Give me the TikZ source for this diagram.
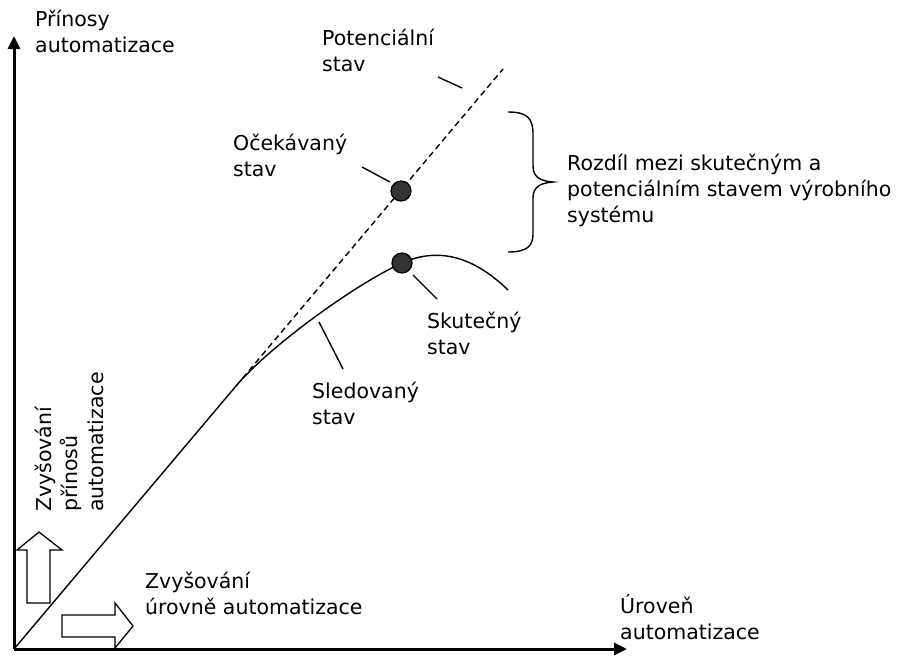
\documentclass[tikz,border=0pt]{standalone}
\usepackage{fontspec}
\setmainfont{DejaVu Sans}
\usetikzlibrary{arrows.meta}
\newcommand{\lblfont}{\fontsize{20.5}{26}\selectfont}
\tikzset{
  lbl/.style={font=\lblfont, align=left, inner sep=0pt, anchor=north west},
  axis/.style={line width=3pt, -{Triangle[length=13pt,width=12pt]}},
  leader/.style={line width=1.4pt},
  trend/.style={line width=1.4pt},
  potline/.style={line width=1.4pt, dash pattern=on 6pt off 4pt},
  dotmark/.style={circle, draw=black, line width=1.2pt, fill=black!80, minimum size=20pt, inner sep=0pt},
  hollow/.style={draw=black, line width=1.3pt, fill=white, line join=miter},
  bracestyle/.style={line width=1.4pt}
}
\begin{document}
\begin{tikzpicture}[x=1pt,y=-1pt]
\useasboundingbox (0,0) rectangle (904,659);
% axes
\coordinate (O) at (14,649);
\coordinate (ytop) at (14,36);
\coordinate (xend) at (627,649);
\draw[axis] (O) -- (ytop);
\draw[axis] (O) -- (xend);
% potential (dashed) line
\coordinate (split) at (236,386);
\coordinate (ptop) at (503,69);
\draw[trend] (O) -- (split);
\draw[potline] (split) -- (ptop);
% actual curve
\coordinate (peak) at (402,263);
\coordinate (cend) at (508,290);
\draw[trend] (split) .. controls (268,348) and (352,286) .. (peak)
  .. controls (440,246) and (475,258) .. (cend);
% dots
\node[dotmark] (expdot) at (401,191) {};
\node[dotmark] (actdot) at (peak) {};
% leaders
\coordinate (l1a) at (438,77); \coordinate (l1b) at (462,88);
\coordinate (l2a) at (362,167); \coordinate (l2b) at (390,182);
\coordinate (l3a) at (413,275); \coordinate (l3b) at (437,299);
\coordinate (l4a) at (319,322); \coordinate (l4b) at (343,369);
\draw[leader] (l1a) -- (l1b);
\draw[leader] (l2a) -- (l2b);
\draw[leader] (l3a) -- (l3b);
\draw[leader] (l4a) -- (l4b);
% brace
\coordinate (btop) at (508,112);
\coordinate (btip) at (553,182);
\coordinate (bbot) at (508,252);
\draw[bracestyle] (btop) .. controls (527,112) and (533,118) .. (533,134) -- (533,166)
  .. controls (533,177) and (540,181) .. (btip)
  .. controls (540,183) and (533,187) .. (533,198) -- (533,234)
  .. controls (533,246) and (527,252) .. (bbot);
% hollow arrows
\draw[hollow] (27,603) -- (27,550) -- (17,550) -- (39,532) -- (62,550) -- (50,550) -- (50,603) -- cycle;
\draw[hollow] (62,615) -- (115,615) -- (115,603) -- (133,626) -- (115,648) -- (115,637) -- (62,637) -- cycle;
% labels
\node[lbl] (yl) at (35,8) {\strut Přínosy\\automatizace};
\node[lbl] (pot) at (322,27) {\strut Potenciální\\stav};
\node[lbl] (exp) at (233,132) {\strut Očekávaný\\stav};
\node[lbl] (diff) at (567,152) {\strut Rozdíl mezi skutečným a\\potenciálním stavem výrobního\\systému};
\node[lbl] (act) at (427,310) {\strut Skutečný\\stav};
\node[lbl] (obs) at (312,380) {\strut Sledovaný\\stav};
\node[lbl] (incx) at (145,570) {\strut Zvyšování\\úrovně automatizace};
\node[lbl] (xl) at (620,594) {\strut Úroveň\\automatizace};
\node[lbl, rotate=90] (incy) at (33,512) {\strut Zvyšování\\přínosů\\automatizace};
\end{tikzpicture}
\end{document}
